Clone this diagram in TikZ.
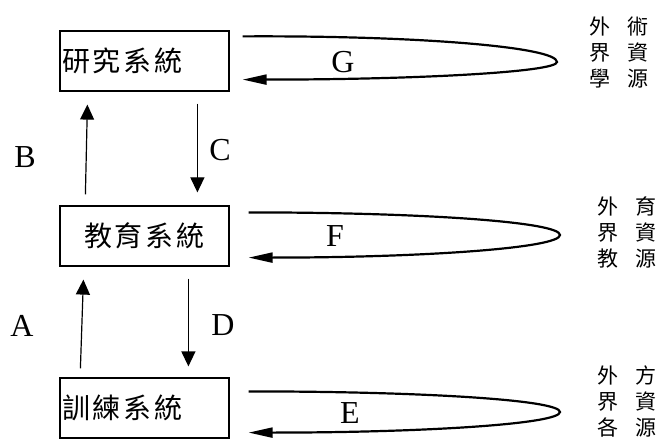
\documentclass[tikz,border=0pt]{standalone}
\usepackage{fontspec}
\setmainfont{Liberation Serif}
\newfontfamily\cjk{Noto Sans CJK TC}
\usetikzlibrary{arrows.meta}
\newcommand{\cg}{\hspace{3pt}}
\newcommand{\sg}{\hspace{17pt}}

\begin{document}
\begin{tikzpicture}[x=1pt, y=1pt,
  sysbox/.style={
    draw, line width=1.2pt, minimum width=169pt, minimum height=60pt,
    text width=165pt, inner xsep=2pt, font=\cjk\fontsize{28}{28}\selectfont
  },
  srclbl/.style={align=center, inner sep=0pt, font=\cjk\fontsize{21}{26}\selectfont},
  letter/.style={inner sep=0pt, font=\fontsize{32}{32}\selectfont},
  varrow/.style={-{Triangle[length=15pt,width=14pt]}, line width=1.2pt},
  looparrow/.style={-{Triangle[length=24pt,width=10pt]}, line width=2.2pt}
]
\useasboundingbox (0,0) rectangle (659,440);

% Systems (left)
\node[sysbox, align=left] (res) at (144.5,379) {研\cg 究\cg 系\cg 統};
\node[sysbox, align=center] (edu) at (144.5,204) {教\cg 育\cg 系\cg 統};
\node[sysbox, align=left] (trn) at (144.5,32) {訓\cg 練\cg 系\cg 統};

% Outside resources (right)
\node[srclbl] (gsrc) at (619,387) {外\sg 術\\界\sg 資\\學\sg 源};
\node[srclbl] (fsrc) at (627,208) {外\sg 育\\界\sg 資\\教\sg 源};
\node[srclbl] (esrc) at (627,39) {外\sg 方\\界\sg 資\\各\sg 源};

% Loop tips
\coordinate (gtip) at (557,378);
\coordinate (ftip) at (560,205);
\coordinate (etip) at (560,28);

% Arrows between systems
\draw[varrow] ([xshift=26pt,yshift=11pt]edu.north west) -- ([xshift=28pt,yshift=-13pt]res.south west);
\draw[varrow] ([xshift=138pt,yshift=-12pt]res.south west) -- ([xshift=138pt,yshift=13pt]edu.north west);
\draw[varrow] ([xshift=21pt,yshift=9pt]trn.north west) -- ([xshift=24pt,yshift=-13pt]edu.south west);
\draw[varrow] ([xshift=129pt,yshift=-12pt]edu.south west) -- ([xshift=129pt,yshift=11pt]trn.north west);

\node[letter] (blbl) at (25,283) {B};
\node[letter] (clbl) at (220,290) {C};
\node[letter] (albl) at (22,114) {A};
\node[letter] (dlbl) at (223,115) {D};

% Loops
\draw[looparrow] ([xshift=13pt,yshift=-6pt]res.north east)
  .. controls +(175,1) and +(0,15) .. (gtip)
  .. controls +(0,-10) and +(175,0) .. ([xshift=13pt,yshift=12pt]res.south east);
\draw[looparrow] ([xshift=19pt,yshift=-7pt]edu.north east)
  .. controls +(175,0) and +(0,13) .. (ftip)
  .. controls +(0,-13) and +(175,0) .. ([xshift=19pt,yshift=9pt]edu.south east);
\draw[looparrow] ([xshift=19pt,yshift=-14pt]trn.north east)
  .. controls +(175,0) and +(0,12) .. (etip)
  .. controls +(0,-12) and +(175,0) .. ([xshift=19pt,yshift=6pt]trn.south east);

\node[letter] (glbl) at (343,378) {G};
\node[letter] (flbl) at (335,204) {F};
\node[letter] (elbl) at (350,27) {E};
\end{tikzpicture}
\end{document}
